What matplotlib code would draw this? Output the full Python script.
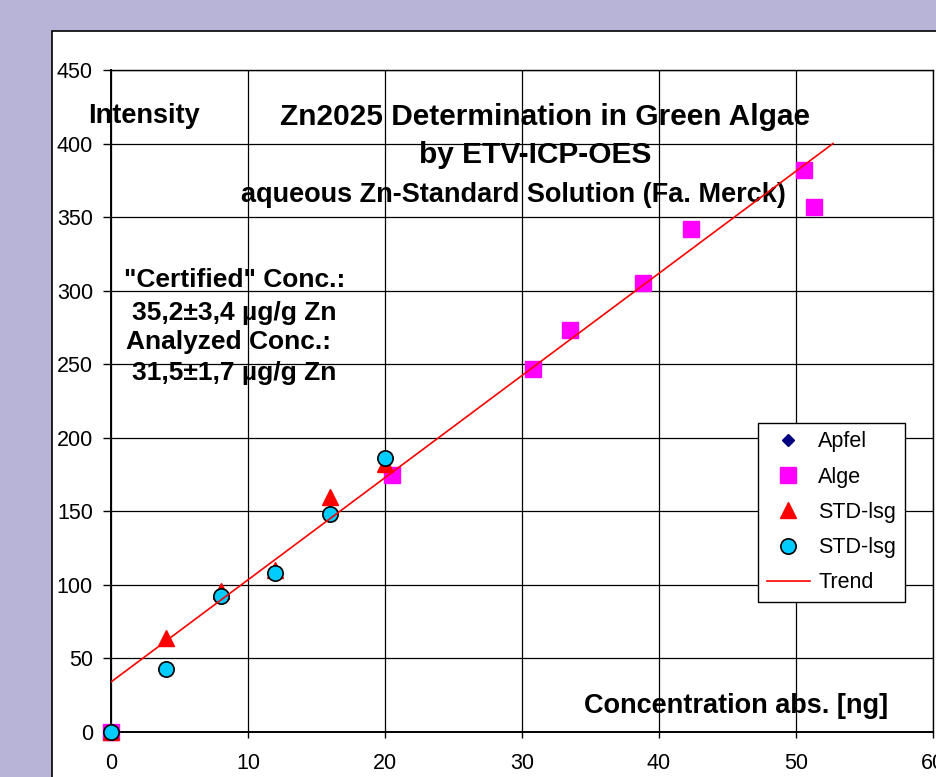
import numpy as np
import matplotlib
matplotlib.use("Agg")
import matplotlib.pyplot as plt
from matplotlib.patches import Rectangle

plt.rcParams['font.family'] = ['Liberation Sans', 'DejaVu Sans']

# data
apfel_x = [0]
apfel_y = [0]
alge_x = [0, 20.5, 30.8, 33.5, 38.8, 42.3, 50.6, 51.3]
alge_y = [0, 175, 247, 273, 305, 342, 382, 357]
std_tri_x = [0, 4, 8, 12, 16, 20]
std_tri_y = [0, 64, 96, 110, 160, 182]
std_circ_x = [0, 4, 8, 12, 16, 20]
std_circ_y = [0, 43, 92.5, 108, 148, 186]
trend_x = [0, 52.7]
trend_y = [34, 400]

W, H = 937, 777
fig = plt.figure(figsize=(W / 100, H / 100), dpi=100, facecolor='#B8B4D8')

# white chart area with border (runs off the right/bottom edge)
fig.patches.append(Rectangle((52 / W, -0.1), 1.2, (H - 31) / H + 0.1,
                             transform=fig.transFigure, facecolor='white',
                             edgecolor='black', lw=1.2, zorder=-5))

ax = fig.add_axes([111 / W, 1 - 732 / H, 822 / W, 662 / H])
ax.set_facecolor('white')

ax.plot(apfel_x, apfel_y, ls='none', marker='D', ms=6, color='#000080',
        label='Apfel', clip_on=False, zorder=3)
ax.plot(alge_x, alge_y, ls='none', marker='s', ms=11, color='#FF00FF',
        label='Alge', clip_on=False, zorder=4)
ax.plot(std_tri_x, std_tri_y, ls='none', marker='^', ms=12, color='#FF0000',
        label='STD-lsg', clip_on=False, zorder=5)
ax.plot(std_circ_x, std_circ_y, ls='none', marker='o', ms=11,
        markerfacecolor='#00CCFF', markeredgecolor='black', mew=1.2,
        label='STD-lsg', clip_on=False, zorder=6)
ax.plot(trend_x, trend_y, color='#FF0000', lw=1.2, label='Trend', zorder=7)

ax.set_xlim(0, 60)
ax.set_ylim(0, 450)
ax.set_xticks(np.arange(0, 61, 10))
ax.set_yticks(np.arange(0, 451, 50))
ax.grid(True, color='black', lw=0.9)
ax.set_axisbelow(True)
for s in ax.spines.values():
    s.set_color('black')
    s.set_linewidth(1.0)
ax.spines['left'].set_linewidth(1.4)
ax.spines['bottom'].set_linewidth(1.4)
ax.tick_params(axis='y', direction='out', length=6, width=1, pad=7, labelsize=15.5)
ax.tick_params(axis='x', direction='out', length=4, width=1, pad=11, labelsize=15.5)

# texts
ax.text(-1.7, 419, 'Intensity', fontsize=19.5, fontweight='bold', ha='left', va='center')
ax.text(31.7, 418, 'Zn2025 Determination in Green Algae', fontsize=21.5,
        fontweight='bold', ha='center', va='center')
ax.text(30.95, 392, 'by ETV-ICP-OES', fontsize=21.5, fontweight='bold',
        ha='center', va='center')
ax.text(29.4, 365, 'aqueous Zn-Standard Solution (Fa. Merck)', fontsize=19.5,
        fontweight='bold', ha='center', va='center')
ax.text(9.0, 307, '"Certified" Conc.:', fontsize=19, fontweight='bold', ha='center', va='center')
ax.text(9.0, 285, '35,2±3,4 µg/g Zn', fontsize=19, fontweight='bold', ha='center', va='center')
ax.text(8.6, 265, 'Analyzed Conc.:', fontsize=19, fontweight='bold', ha='center', va='center')
ax.text(9.0, 244, '31,5±1,7 µg/g Zn', fontsize=19, fontweight='bold', ha='center', va='center')
ax.text(45.6, 17.5, 'Concentration abs. [ng]', fontsize=19.5, fontweight='bold',
        ha='center', va='center')

leg = ax.legend(loc='upper left', bbox_to_anchor=(0.787, 0.467), borderaxespad=0,
                fontsize=15.5, frameon=True, fancybox=False, framealpha=1,
                edgecolor='black', labelspacing=0.66, handlelength=2.0,
                handletextpad=0.4, borderpad=0.4)
leg.get_frame().set_linewidth(1.0)
leg.set_zorder(10)

fig.savefig('out.png', dpi=100, facecolor=fig.get_facecolor())
